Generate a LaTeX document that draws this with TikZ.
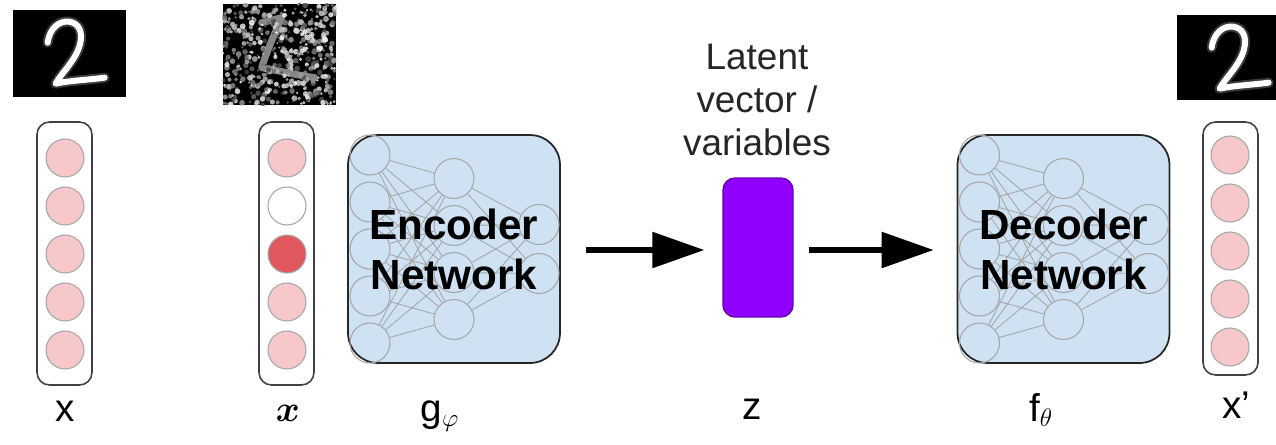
\documentclass[tikz,border=0pt]{standalone}
\usepackage{fontspec}
\usepackage{amsmath}
\setmainfont{Liberation Sans}
\usetikzlibrary{arrows.meta,calc}

\definecolor{unitpink}{HTML}{F6C8CA}
\definecolor{unitred}{HTML}{E0585E}
\definecolor{netblue}{HTML}{CFE2F3}
\definecolor{latentviolet}{HTML}{9000FF}

\tikzset{
  layer/.style={draw=black!75, line width=0.9pt, rounded corners=0.25cm, minimum width=1.1cm},
  unit/.style={circle, draw=black!35, line width=0.6pt, fill=unitpink, minimum size=0.76cm, inner sep=0pt},
  netbox/.style={draw=black!85, line width=1pt, fill=netblue, rounded corners=0.6cm, minimum width=4.24cm, minimum height=4.56cm},
  neuron/.style={circle, draw=black!35, line width=0.6pt, minimum size=0.8cm, inner sep=0pt},
  wire/.style={draw=black!35, line width=0.5pt},
  flow/.style={line width=3.2pt, -{Triangle[length=1.04cm,width=0.7cm]}},
  varlabel/.style={anchor=base, font=\fontsize{22}{26}\selectfont},
  glow/.style={line cap=round, line join=round},
  digit two/.pic={
    \draw[glow, white!50!black, line width=0.2cm, opacity=0.45] (35,33) .. controls (37,18) and (47,11) .. (56,12) .. controls (66,13) and (71,22) .. (67,36) .. controls (62,52) and (49,63) .. (43,74) .. controls (56,71) and (78,70) .. (92,68);
    \draw[glow, white, line width=0.12cm] (35,33) .. controls (37,18) and (47,11) .. (56,12) .. controls (66,13) and (71,22) .. (67,36) .. controls (62,52) and (49,63) .. (43,74) .. controls (56,71) and (78,70) .. (92,68);
  },
}

\begin{document}
\begin{tikzpicture}[x=0.02cm,y=-0.02cm]
\useasboundingbox (0,0) rectangle (1276,444);

% digit images
\node[fill=black, minimum width=2.26cm, minimum height=1.74cm, inner sep=0pt] (img-x) at (69.5,53.5) {};
\pic at (img-x.north west) {digit two};
\node[fill=black, minimum width=1.98cm, minimum height=1.7cm, inner sep=0pt] (img-xr) at (1226.5,57.5) {};
\begin{scope}
  \clip (img-xr.north west) rectangle (img-xr.south east);
  \pic at (img-xr.north west) {digit two};
\end{scope}
\node[fill=black, minimum width=2.26cm, minimum height=2.02cm, inner sep=0pt] (img-xt) at (279.5,54.5) {};
\begin{scope}
  \clip (img-xt.north west) rectangle (img-xt.south east);
  \draw[glow, white!75!black, line width=0.14cm, opacity=0.7, shift={(img-xt.north west)}]
    (39,19) -- (59,14) .. controls (52,30) and (44,48) .. (39,64) .. controls (60,68) and (78,72) .. (92,74);
  \pgfmathsetseed{17}
  \foreach \k in {1,...,520} {
    \pgfmathsetmacro\gl{25+75*rnd}
    \pgfmathsetmacro\rr{0.02+0.04*rnd}
    \fill[white!\gl!black, opacity=0.85] ($(img-xt.north west)+(113*rnd,101*rnd)$) circle[radius=\rr cm];
  }
\end{scope}

% input, corrupted input and reconstruction
\node[layer, minimum height=5.26cm] (x) at (64.5,253.5) {};
\node[layer, minimum height=5.26cm] (xt) at (286.5,253.5) {};
\node[layer, minimum height=5.06cm] (xr) at (1230.5,248.5) {};
\foreach \i in {1,...,5} {
  \node[unit] (x-\i) at (65,110+48*\i) {};
  \node[unit] (xr-\i) at (1230,107+48*\i) {};
}
\foreach \i/\c in {1/unitpink,2/white,3/unitred,4/unitpink,5/unitpink}
  \node[unit, fill=\c] (xt-\i) at (287,110+48*\i) {};

% encoder and decoder
\node[netbox] (enc) at (454,249) {};
\node[netbox] (dec) at (1063.5,249) {};
\foreach \n in {enc,dec} {
  \foreach \i/\dy in {1/-94,2/-47,3/0,4/47,5/94}
    \node[neuron] (\n-a\i) at ([shift={(-84,\dy)}]\n.center) {};
  \foreach \j/\dy in {1/-70.5,2/-23.5,3/23.5,4/70.5}
    \node[neuron] (\n-b\j) at ([shift={(0,\dy)}]\n.center) {};
  \foreach \k/\dy in {1/-24.5,2/24.5}
    \node[neuron] (\n-c\k) at ([shift={(85,\dy)}]\n.center) {};
  \foreach \i in {1,...,5}
    \foreach \j in {1,...,4}
      \draw[wire] (\n-a\i) -- (\n-b\j);
  \foreach \j in {1,...,4}
    \foreach \k in {1,2}
      \draw[wire] (\n-b\j) -- (\n-c\k);
}
\node[align=center, font=\bfseries\fontsize{24}{28.5}\selectfont] (enc-name) at (enc.center) {Encoder\\Network};
\node[align=center, font=\bfseries\fontsize{24}{28.5}\selectfont] (dec-name) at (dec.center) {Decoder\\Network};

% latent code
\node[draw=latentviolet!70!black, line width=0.8pt, fill=latentviolet, rounded corners=0.24cm,
      minimum width=1.4cm, minimum height=2.78cm] (z) at (758,247.5) {};
\node[align=center, font=\fontsize{21}{24.5}\selectfont, text=black!85] (z-name) at (757,100) {Latent\\vector /\\variables};

\coordinate (axis) at (0,250);
\draw[flow, shorten <=0.5cm, shorten >=0.36cm] (enc.east |- axis) -- (z.west |- axis);
\draw[flow, shorten <=0.3cm, shorten >=0.46cm] (z.east |- axis) -- (dec.west |- axis);

% labels
\node[varlabel] (x-lbl) at (65,421) {x};
\node[varlabel] (xt-lbl) at (288,421) {$\boldsymbol{x}$};
\node[varlabel] (enc-lbl) at (440,421) {g$_{\varphi}$};
\node[varlabel] (z-lbl) at (752,419) {z};
\node[varlabel] (dec-lbl) at (1041,421) {f$_{\theta}$};
\node[varlabel] (xr-lbl) at (1236,418) {x’};
\end{tikzpicture}
\end{document}
